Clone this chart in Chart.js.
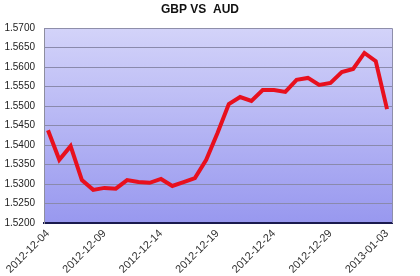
<!DOCTYPE html>
<html>
<head>
<meta charset="utf-8">
<script src="https://cdn.jsdelivr.net/npm/chart.js@4"></script>
<style>
  html, body { margin: 0; padding: 0; background: #fff; }
  #wrap { width: 420px; height: 276px; }
</style>
</head>
<body>
<div id="wrap"><canvas id="myChart" width="420" height="276"></canvas></div>
<script>
const dates = [
  "2012-12-04", "2012-12-05", "2012-12-06", "2012-12-07", "2012-12-08",
  "2012-12-09", "2012-12-10", "2012-12-11", "2012-12-12", "2012-12-13",
  "2012-12-14", "2012-12-15", "2012-12-16", "2012-12-17", "2012-12-18",
  "2012-12-19", "2012-12-20", "2012-12-21", "2012-12-22", "2012-12-23",
  "2012-12-24", "2012-12-25", "2012-12-26", "2012-12-27", "2012-12-28",
  "2012-12-29", "2012-12-30", "2012-12-31", "2013-01-01", "2013-01-02",
  "2013-01-03"
];
const gbpAud = [
  1.5438, 1.5362, 1.5397, 1.5310, 1.5285,
  1.5290, 1.5288, 1.5310, 1.5305, 1.5303,
  1.5313, 1.5295, 1.5305, 1.5315, 1.5362,
  1.5431, 1.5505, 1.5523, 1.5513, 1.5541,
  1.5541, 1.5536, 1.5567, 1.5572, 1.5554,
  1.5559, 1.5587, 1.5595, 1.5636, 1.5615,
  1.5492
];
const dateTicks = [0, 5, 10, 15, 20, 25, 30];
const yMin = 1.52;
const yMax = 1.57;
const yStep = 0.005;

const points = gbpAud.map((v, i) => ({ x: i, y: v }));

const plotBg = {
  id: "plotBg",
  beforeDraw(chart) {
    const { ctx, chartArea: a } = chart;
    const g = ctx.createLinearGradient(0, a.top, 0, a.bottom);
    g.addColorStop(0, "#d3d3f9");
    g.addColorStop(1, "#9898ef");
    ctx.save();
    ctx.fillStyle = g;
    ctx.fillRect(a.left, a.top, a.right - a.left, a.bottom - a.top);
    ctx.restore();
  },
  afterDatasetsDraw(chart) {
    const { ctx, chartArea: a } = chart;
    ctx.save();
    ctx.strokeStyle = "#8e8eaa";
    ctx.lineWidth = 1;
    ctx.beginPath();
    ctx.moveTo(a.left, a.top + 0.5);
    ctx.lineTo(a.right + 0.5, a.top + 0.5);
    ctx.lineTo(a.right + 0.5, a.bottom);
    ctx.stroke();
    ctx.restore();
  }
};

const font = "Arial, 'Liberation Sans', sans-serif";

new Chart(document.getElementById("myChart"), {
  type: "line",
  data: {
    datasets: [{
      data: points,
      borderColor: "#e8101e",
      borderWidth: 4,
      pointRadius: 0,
      tension: 0,
      fill: false
    }]
  },
  options: {
    responsive: false,
    animation: false,
    layout: { padding: { left: 0, right: 20, top: 0, bottom: 0 } },
    plugins: {
      legend: { display: false },
      tooltip: { enabled: false },
      title: {
        display: true,
        text: "GBP VS  AUD",
        color: "#111",
        font: { family: font, size: 12, weight: "bold" },
        padding: { top: 2, bottom: 11.6 }
      }
    },
    scales: {
      x: {
        type: "linear",
        min: -0.354,
        max: 30.44,
        grid: { display: false, drawTicks: false },
        border: { color: "#1a1a4e", width: 2 },
        afterBuildTicks(scale) {
          scale.ticks = dateTicks.map(v => ({ value: v }));
        },
        ticks: {
          autoSkip: false,
          maxRotation: 45,
          minRotation: 45,
          padding: 4,
          color: "#333",
          font: { family: font, size: 11 },
          callback: v => dates[v]
        },
        afterFit(scale) { scale.height = 53; }
      },
      y: {
        min: yMin,
        max: yMax,
        grid: { color: "#8a8aac", lineWidth: 1, drawTicks: false },
        border: { color: "#8e8e9e", width: 1 },
        ticks: {
          stepSize: yStep,
          padding: 9,
          color: "#222",
          font: { family: font, size: 10 },
          callback: v => v.toFixed(4)
        },
        afterFit(scale) { scale.width = 44; }
      },
      yRight: {
        position: "right",
        display: true,
        grid: { display: false, drawTicks: false },
        border: { display: false },
        ticks: { display: false },
        afterFit(scale) { scale.width = 8; }
      }
    }
  },
  plugins: [plotBg]
});
</script>
</body>
</html>
